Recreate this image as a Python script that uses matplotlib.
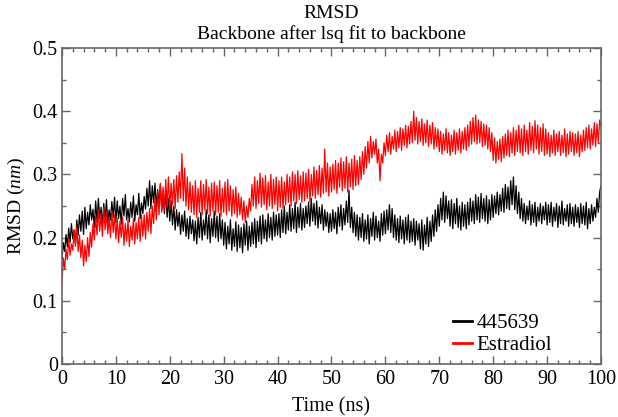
import matplotlib
matplotlib.use("Agg")
import matplotlib.pyplot as plt
from matplotlib.ticker import MultipleLocator
import numpy as np

# sample times (ns), one value every 0.25 ns
time_ns = np.arange(0, 100.25, 0.25)

rmsd_445639 = [
    0.165, 0.192, 0.178, 0.205, 0.185, 0.215, 0.192, 0.222, 0.198, 0.212, 0.190, 0.228, 0.204, 0.236, 0.210, 0.242, 0.205, 0.248, 0.214, 0.240,
    0.220, 0.252, 0.228, 0.245, 0.216, 0.258, 0.224, 0.262, 0.230, 0.248, 0.219, 0.254, 0.226, 0.260, 0.222, 0.244, 0.228, 0.257, 0.232, 0.264,
    0.224, 0.258, 0.230, 0.250, 0.221, 0.262, 0.234, 0.268, 0.228, 0.246, 0.225, 0.256, 0.232, 0.266, 0.226, 0.252, 0.236, 0.270, 0.230, 0.255,
    0.238, 0.265, 0.245, 0.278, 0.250, 0.290, 0.246, 0.282, 0.255, 0.286, 0.248, 0.276, 0.252, 0.284, 0.244, 0.270, 0.238, 0.274, 0.232, 0.262,
    0.226, 0.258, 0.220, 0.250, 0.212, 0.244, 0.218, 0.240, 0.205, 0.236, 0.210, 0.242, 0.202, 0.230, 0.198, 0.234, 0.206, 0.228, 0.195, 0.226,
    0.190, 0.232, 0.200, 0.240, 0.196, 0.228, 0.204, 0.244, 0.198, 0.236, 0.192, 0.230, 0.202, 0.242, 0.200, 0.234, 0.194, 0.238, 0.198, 0.228,
    0.188, 0.224, 0.182, 0.218, 0.190, 0.228, 0.180, 0.214, 0.186, 0.225, 0.178, 0.220, 0.184, 0.216, 0.176, 0.222, 0.188, 0.226, 0.180, 0.218,
    0.186, 0.224, 0.190, 0.230, 0.184, 0.226, 0.194, 0.234, 0.190, 0.236, 0.198, 0.228, 0.194, 0.238, 0.200, 0.232, 0.196, 0.240, 0.202, 0.236,
    0.204, 0.238, 0.200, 0.244, 0.208, 0.250, 0.206, 0.240, 0.212, 0.252, 0.210, 0.246, 0.214, 0.256, 0.208, 0.248, 0.216, 0.254, 0.212, 0.246,
    0.216, 0.250, 0.222, 0.256, 0.218, 0.262, 0.226, 0.254, 0.220, 0.258, 0.215, 0.248, 0.222, 0.252, 0.212, 0.244, 0.218, 0.240, 0.208, 0.238,
    0.210, 0.244, 0.214, 0.240, 0.206, 0.248, 0.218, 0.252, 0.212, 0.246, 0.220, 0.258, 0.224, 0.275, 0.216, 0.248, 0.208, 0.240, 0.202, 0.236,
    0.196, 0.232, 0.200, 0.238, 0.194, 0.228, 0.198, 0.236, 0.190, 0.230, 0.202, 0.240, 0.196, 0.234, 0.200, 0.226, 0.194, 0.238, 0.204, 0.242,
    0.206, 0.244, 0.212, 0.252, 0.208, 0.246, 0.200, 0.236, 0.196, 0.230, 0.192, 0.234, 0.198, 0.228, 0.190, 0.232, 0.196, 0.236, 0.192, 0.226,
    0.194, 0.230, 0.188, 0.226, 0.196, 0.222, 0.182, 0.228, 0.180, 0.220, 0.190, 0.232, 0.186, 0.226, 0.194, 0.236, 0.202, 0.244, 0.210, 0.252,
    0.218, 0.262, 0.228, 0.272, 0.224, 0.266, 0.230, 0.258, 0.218, 0.260, 0.214, 0.254, 0.222, 0.262, 0.216, 0.250, 0.212, 0.256, 0.218, 0.252,
    0.214, 0.256, 0.220, 0.262, 0.226, 0.258, 0.222, 0.268, 0.228, 0.264, 0.224, 0.270, 0.230, 0.262, 0.226, 0.266, 0.222, 0.260, 0.228, 0.268,
    0.232, 0.266, 0.238, 0.272, 0.236, 0.268, 0.242, 0.278, 0.240, 0.284, 0.246, 0.280, 0.244, 0.290, 0.252, 0.296, 0.244, 0.282, 0.238, 0.272,
    0.230, 0.262, 0.226, 0.254, 0.222, 0.250, 0.228, 0.258, 0.220, 0.252, 0.224, 0.256, 0.218, 0.248, 0.226, 0.254, 0.222, 0.250, 0.228, 0.256,
    0.220, 0.252, 0.224, 0.256, 0.218, 0.248, 0.226, 0.254, 0.216, 0.250, 0.222, 0.258, 0.220, 0.246, 0.226, 0.252, 0.218, 0.254, 0.222, 0.248,
    0.218, 0.252, 0.224, 0.248, 0.216, 0.254, 0.222, 0.250, 0.220, 0.256, 0.214, 0.246, 0.222, 0.252, 0.226, 0.248, 0.232, 0.262, 0.240, 0.272,
    0.282,
]

rmsd_estradiol = [
    0.128, 0.168, 0.150, 0.182, 0.165, 0.198, 0.172, 0.190, 0.180, 0.212, 0.186, 0.218, 0.178, 0.204, 0.168, 0.196, 0.155, 0.188, 0.162, 0.200,
    0.170, 0.208, 0.185, 0.222, 0.196, 0.234, 0.204, 0.244, 0.210, 0.238, 0.202, 0.248, 0.212, 0.240, 0.206, 0.232, 0.200, 0.242, 0.208, 0.236,
    0.198, 0.230, 0.192, 0.226, 0.200, 0.232, 0.188, 0.222, 0.194, 0.228, 0.186, 0.218, 0.196, 0.230, 0.190, 0.224, 0.198, 0.232, 0.194, 0.236,
    0.202, 0.236, 0.198, 0.240, 0.210, 0.246, 0.206, 0.250, 0.222, 0.262, 0.228, 0.274, 0.236, 0.286, 0.240, 0.280, 0.244, 0.292, 0.248, 0.296,
    0.244, 0.286, 0.252, 0.292, 0.246, 0.298, 0.256, 0.304, 0.262, 0.333, 0.258, 0.310, 0.250, 0.296, 0.244, 0.288, 0.240, 0.282, 0.236, 0.290,
    0.232, 0.278, 0.240, 0.290, 0.236, 0.284, 0.244, 0.292, 0.238, 0.280, 0.234, 0.286, 0.242, 0.288, 0.236, 0.282, 0.240, 0.290, 0.234, 0.278,
    0.240, 0.288, 0.236, 0.292, 0.242, 0.282, 0.234, 0.276, 0.238, 0.280, 0.232, 0.270, 0.236, 0.264, 0.228, 0.258, 0.224, 0.250, 0.232, 0.262,
    0.242, 0.284, 0.250, 0.296, 0.246, 0.290, 0.254, 0.302, 0.248, 0.294, 0.252, 0.298, 0.244, 0.288, 0.250, 0.300, 0.246, 0.292, 0.252, 0.296,
    0.242, 0.290, 0.248, 0.296, 0.246, 0.288, 0.252, 0.300, 0.256, 0.296, 0.250, 0.304, 0.258, 0.300, 0.254, 0.306, 0.260, 0.298, 0.256, 0.304,
    0.258, 0.302, 0.262, 0.308, 0.256, 0.300, 0.266, 0.312, 0.262, 0.306, 0.268, 0.314, 0.264, 0.310, 0.270, 0.340, 0.272, 0.318, 0.266, 0.312,
    0.272, 0.316, 0.276, 0.322, 0.270, 0.318, 0.280, 0.326, 0.274, 0.320, 0.278, 0.328, 0.272, 0.318, 0.280, 0.324, 0.276, 0.330, 0.282, 0.322,
    0.284, 0.328, 0.292, 0.336, 0.300, 0.344, 0.310, 0.352, 0.318, 0.360, 0.326, 0.352, 0.332, 0.356, 0.318, 0.340, 0.290, 0.332, 0.318, 0.350,
    0.330, 0.362, 0.336, 0.366, 0.332, 0.360, 0.340, 0.370, 0.336, 0.368, 0.342, 0.374, 0.338, 0.372, 0.346, 0.378, 0.342, 0.376, 0.348, 0.384,
    0.350, 0.400, 0.354, 0.390, 0.348, 0.384, 0.352, 0.388, 0.346, 0.380, 0.350, 0.386, 0.344, 0.378, 0.348, 0.382, 0.340, 0.374, 0.344, 0.372,
    0.336, 0.368, 0.332, 0.364, 0.338, 0.372, 0.334, 0.366, 0.330, 0.362, 0.336, 0.370, 0.332, 0.366, 0.338, 0.372, 0.334, 0.368, 0.340, 0.374,
    0.338, 0.378, 0.344, 0.384, 0.348, 0.390, 0.352, 0.394, 0.348, 0.386, 0.350, 0.384, 0.344, 0.380, 0.346, 0.378, 0.340, 0.374, 0.336, 0.366,
    0.322, 0.358, 0.318, 0.352, 0.324, 0.356, 0.320, 0.360, 0.326, 0.364, 0.330, 0.370, 0.328, 0.366, 0.334, 0.374, 0.330, 0.370, 0.336, 0.378,
    0.334, 0.372, 0.330, 0.378, 0.336, 0.370, 0.332, 0.382, 0.338, 0.376, 0.334, 0.385, 0.340, 0.378, 0.332, 0.374, 0.336, 0.380, 0.330, 0.372,
    0.332, 0.366, 0.328, 0.362, 0.334, 0.370, 0.330, 0.364, 0.336, 0.368, 0.330, 0.362, 0.334, 0.372, 0.328, 0.364, 0.332, 0.368, 0.336, 0.366,
    0.330, 0.364, 0.334, 0.368, 0.328, 0.362, 0.336, 0.370, 0.338, 0.374, 0.342, 0.378, 0.340, 0.372, 0.346, 0.382, 0.344, 0.380, 0.350, 0.386,
    0.376,
]

plt.rcParams['font.family'] = ['Liberation Serif', 'DejaVu Serif']
plt.rcParams['mathtext.fontset'] = 'custom'
plt.rcParams['mathtext.it'] = 'Liberation Serif:italic'
plt.rcParams['mathtext.rm'] = 'Liberation Serif'

fig = plt.figure(figsize=(6.18, 4.17), dpi=100)
ax = fig.add_axes([0.1003, 0.1271, 0.8722, 0.7578])

ax.plot(time_ns, rmsd_445639, color='black', lw=0.9, label='445639')
ax.plot(time_ns, rmsd_estradiol, color='#ff0000', lw=0.9, label='Estradiol')

ax.set_xlim(0, 100)
ax.set_ylim(0, 0.5)
ax.xaxis.set_major_locator(MultipleLocator(10))
ax.xaxis.set_minor_locator(MultipleLocator(2))
ax.yaxis.set_minor_locator(MultipleLocator(0.05))
ax.set_yticks([0, 0.1, 0.2, 0.3, 0.4, 0.5])
ax.set_yticklabels(['0', '0.1', '0.2', '0.3', '0.4', '0.5'])

frame = '#666666'
for s in ax.spines.values():
    s.set_color(frame)
    s.set_linewidth(1.2)
ax.tick_params(which='both', direction='in', top=True, right=True,
               color=frame, labelsize=14.5)
ax.tick_params(axis='x', pad=4)
ax.tick_params(axis='y', pad=3)
ax.tick_params(which='major', length=6, width=1)
ax.tick_params(which='minor', length=3, width=1)

ax.set_xlabel('Time (ns)', fontsize=14.5, labelpad=6)
ax.set_ylabel(r'RMSD ($\mathit{nm}$)', fontsize=14, labelpad=4)

fig.text(0.5365, 0.968, 'RMSD', ha='center', va='center', fontsize=14)
fig.text(0.5365, 0.918, 'Backbone after lsq fit to backbone',
         ha='center', va='center', fontsize=14)

leg = ax.legend(loc='lower left', bbox_to_anchor=(0.725, 0.028), frameon=False,
                fontsize=15, handlelength=0.9, handletextpad=0.25,
                labelspacing=0.1, borderpad=0.0, borderaxespad=0.0)
for h in leg.get_lines():
    h.set_linewidth(2)

fig.savefig('out.png', dpi=100)
